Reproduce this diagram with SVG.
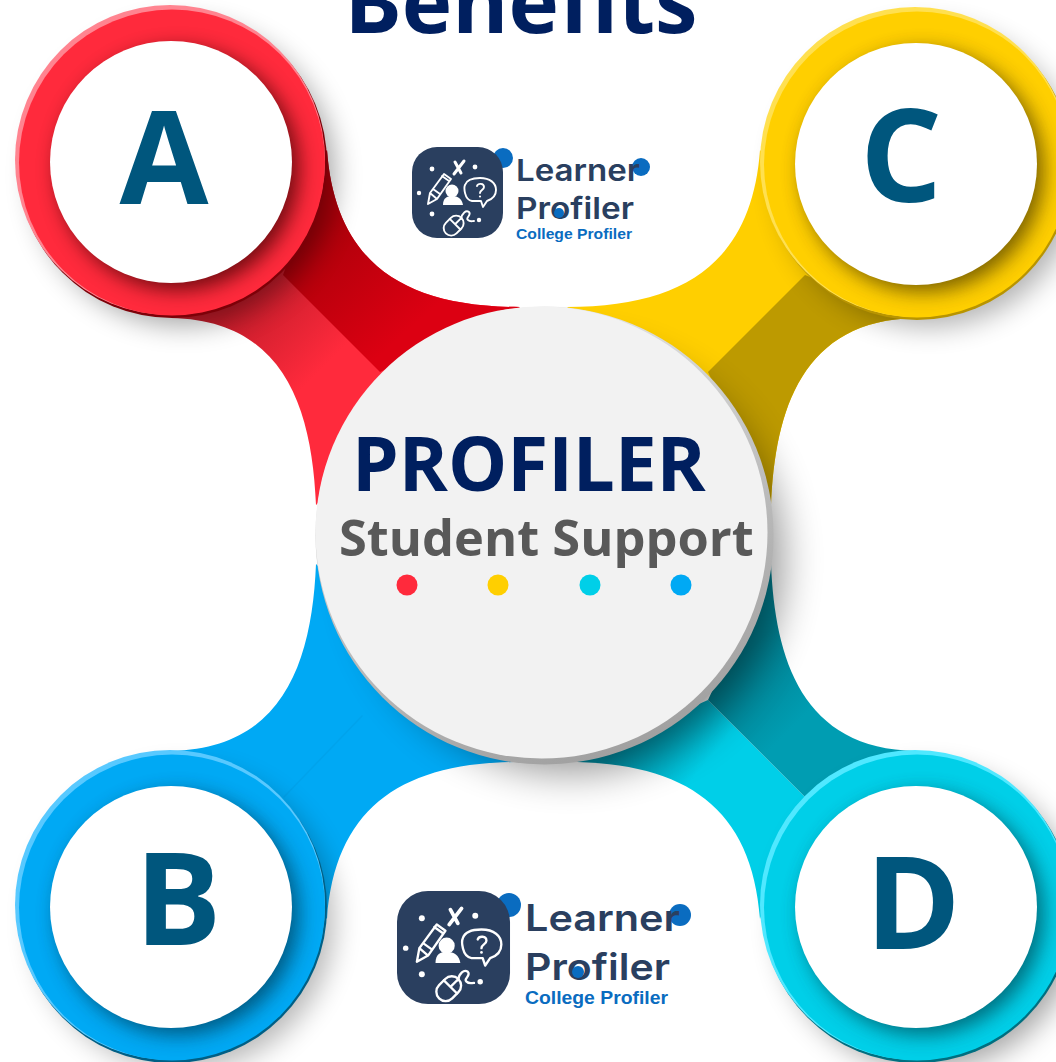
<svg xmlns="http://www.w3.org/2000/svg" xmlns:xlink="http://www.w3.org/1999/xlink" width="1056" height="1062" viewBox="0 0 1056 1062">
<style>
.os{font-family:"Open Sans","Liberation Sans",sans-serif;font-weight:700}
.letter{font-size:129px;fill:#00567d;text-anchor:middle}
.lt{font-family:Inter,"Noto Sans",sans-serif;font-weight:600;fill:#2a3f5f}
.lc{font-family:"Liberation Sans",Arial,sans-serif;font-weight:700;fill:#0a6cc0}
.ic{fill:none;stroke:#fff;stroke-width:1.9;stroke-linejoin:round;stroke-linecap:round}
.wh{fill:#fff}
.lb{fill:#0a6cc0}
</style>
<defs>
<filter id="b20" x="-30%" y="-30%" width="160%" height="160%"><feGaussianBlur stdDeviation="20"/></filter>
<filter id="b14" x="-30%" y="-30%" width="160%" height="160%"><feGaussianBlur stdDeviation="14"/></filter>
<filter id="b10" x="-30%" y="-30%" width="160%" height="160%"><feGaussianBlur stdDeviation="10"/></filter>
<clipPath id="cA"><circle cx="172" cy="162.500" r="153"/></clipPath>
<clipPath id="cB"><circle cx="172" cy="907.500" r="153"/></clipPath>
<clipPath id="cC"><circle cx="917" cy="164.500" r="153"/></clipPath>
<clipPath id="cD"><circle cx="917" cy="907.500" r="153"/></clipPath>
<linearGradient id="gCenter" x1=".3" y1="0" x2=".7" y2="1"><stop offset="0" stop-color="#ececec"/><stop offset=".55" stop-color="#bdbdbd"/><stop offset="1" stop-color="#9e9e9e"/></linearGradient>
<linearGradient id="gA1" gradientUnits="userSpaceOnUse" x1="270" y1="270" x2="345" y2="345"><stop offset="0" stop-color="#c41c2a"/><stop offset="1" stop-color="#ff2a3c"/></linearGradient>
<linearGradient id="gA2" gradientUnits="userSpaceOnUse" x1="330" y1="220" x2="420" y2="320"><stop offset="0" stop-color="#ad000a"/><stop offset="1" stop-color="#dc0012"/></linearGradient>
<linearGradient id="gD1" gradientUnits="userSpaceOnUse" x1="640" y1="720" x2="700" y2="770"><stop offset="0" stop-color="#008ea3"/><stop offset="1" stop-color="#00cfe8"/></linearGradient>
<linearGradient id="gD2" gradientUnits="userSpaceOnUse" x1="720" y1="680" x2="780" y2="740"><stop offset="0" stop-color="#007f90"/><stop offset="1" stop-color="#009db2"/></linearGradient>
<g id="icon">
<rect x="0" y="0" width="91" height="91" rx="25" fill="#2a3f5f"/>
<circle class="wh" cx="20" cy="22" r="2.400"/><circle class="wh" cx="63" cy="20" r="2.400"/><circle class="wh" cx="7" cy="46" r="2.200"/><circle class="wh" cx="20" cy="67" r="2.400"/><circle class="wh" cx="67" cy="73" r="2.200"/>
<path class="ic" style="stroke-width:3" d="M43 15L49 26M52 14L42 27"/>
<path class="ic" d="M16 57L18 46L32 27L39 32L25 52ZM18 46L25 52M21 42L28 47M30 29L37 34"/>
<circle class="wh" cx="40" cy="44" r="6.500"/><path class="wh" d="M31 58C31 51 35 49 40 49C46 49 50 52 51 58Z"/>
<path class="ic" d="M60 54C52 53 52 40 53 38C55 32 62 31 68 31C78 31 84 36 84 43C84 50 78 53 75 54L71 60L69 54Z"/>
<path class="ic" d="M65 39C66 36 72 36 72 40C72 43 68 43 68 46"/><circle class="wh" cx="68" cy="49.500" r="1.100"/>
<g transform="rotate(45 42 79)"><rect class="ic" x="34" y="68" width="15" height="22" rx="7.500"/><path class="ic" d="M34 77H49M41.500 68V77"/></g>
<path class="ic" d="M49 72C50 66 54 63 57 65C60 68 53 71 56 73C58 75 60 74 62 74"/>
</g>
</defs>
<rect width="1056" height="1062" fill="#fff"/>
<g id="connectors">
<g id="arm-A">
<path fill="url(#gA1)" d="M327 150C335 260 400 307 520 307L316 505C312 410 285 320 171 318Z"/>
<path fill="url(#gA2)" d="M327 150C335 260 400 307 520 307L380 372L283 275Z"/>
</g>
<g id="arm-C">
<path fill="#ffcf00" d="M760 150C752 260 687 307 567 307L771 505C775 410 802 320 916 318Z"/>
<path fill="#bd9a00" d="M916 318C802 320 775 410 771 505L708 372L805 275Z"/>
</g>
<g id="arm-B">
<path fill="#00a9f4" d="M171 751C285 749 312 659 316 564L520 762C400 762 335 809 327 919Z"/>
<path fill="#00a3ec" d="M362 715L283 797L284 798L363 716Z"/>
</g>
<g id="arm-D">
<path fill="url(#gD1)" d="M760 919C752 809 687 762 567 762L708 700L805 797Z"/>
<path fill="url(#gD2)" d="M708 700L771 564C775 659 802 749 916 751L805 797Z"/>
</g>
</g>
<g id="node-center">
<circle cx="570" cy="560" r="212" fill="#000" opacity=".42" filter="url(#b20)"/>
<circle cx="544.500" cy="535.500" r="229" fill="url(#gCenter)"/>
<circle cx="541.500" cy="532.500" r="226" fill="#f2f2f2"/>
<text class="os" x="352" y="491" font-size="74.500" fill="#001f5f">PROFILER</text>
<text class="os" x="339" y="556" font-size="50.600" fill="#595959">Student Support</text>
<circle cx="407" cy="585" r="10.500" fill="#ff2a3c"/>
<circle cx="498" cy="585" r="10.500" fill="#ffcf00"/>
<circle cx="590" cy="585" r="10.500" fill="#00cfe8"/>
<circle cx="681" cy="585" r="10.500" fill="#00a9f4"/>
</g>
<g id="node-A">
<circle cx="184" cy="175" r="150" fill="#000" opacity=".36" filter="url(#b14)"/>
<circle cx="172" cy="163" r="155" fill="#7d0008"/>
<circle cx="170" cy="160" r="155" fill="#ff8490"/>
<circle cx="172" cy="162.500" r="153" fill="#ff2a3c"/>
<circle cx="178" cy="169" r="121" fill="#3a0006" opacity=".72" filter="url(#b10)" clip-path="url(#cA)"/>
<circle cx="171" cy="162" r="121" fill="#fff"/>
<text class="os letter" x="164" y="204">A</text>
</g>
<g id="node-B">
<circle cx="184" cy="920" r="150" fill="#000" opacity=".28" filter="url(#b14)"/>
<circle cx="172" cy="908" r="155" fill="#005f85"/>
<circle cx="170" cy="905" r="155" fill="#58c9ff"/>
<circle cx="172" cy="907.500" r="153" fill="#00a9f4"/>
<circle cx="178" cy="914" r="121" fill="#003a55" opacity=".72" filter="url(#b10)" clip-path="url(#cB)"/>
<circle cx="171" cy="907" r="121" fill="#fff"/>
<text class="os letter" x="178" y="945">B</text>
</g>
<g id="node-C">
<circle cx="929" cy="177" r="150" fill="#000" opacity=".3" filter="url(#b14)"/>
<circle cx="917" cy="165" r="155" fill="#b89400"/>
<circle cx="915" cy="162" r="155" fill="#ffe050"/>
<circle cx="917" cy="164.500" r="153" fill="#ffcf00"/>
<circle cx="923" cy="171" r="121" fill="#4a3800" opacity=".72" filter="url(#b10)" clip-path="url(#cC)"/>
<circle cx="916" cy="164" r="121" fill="#fff"/>
<text class="os letter" x="901" y="202">C</text>
</g>
<g id="node-D">
<circle cx="929" cy="920" r="150" fill="#000" opacity=".34" filter="url(#b14)"/>
<circle cx="917" cy="908" r="155" fill="#006f80"/>
<circle cx="915" cy="905" r="155" fill="#50e8ff"/>
<circle cx="917" cy="907.500" r="153" fill="#00cfe8"/>
<circle cx="923" cy="914" r="121" fill="#004a55" opacity=".72" filter="url(#b10)" clip-path="url(#cD)"/>
<circle cx="916" cy="907" r="121" fill="#fff"/>
<text class="os letter" x="913" y="949">D</text>
</g>
<g id="title">
<text class="os" x="521" y="33" font-size="85.400" fill="#001f5f" text-anchor="middle">Benefits</text>
</g>
<g id="logo-top">
<circle class="lb" cx="503" cy="158" r="10"/>
<circle class="lb" cx="641" cy="167" r="9"/>
<use xlink:href="#icon" href="#icon" transform="translate(412 147)"/>
<text class="lt" x="516" y="181" font-size="30" textLength="124" lengthAdjust="spacingAndGlyphs">Learner</text>
<text class="lt" x="516" y="219" font-size="30" textLength="118" lengthAdjust="spacingAndGlyphs">Profiler</text>
<circle class="lb" cx="559" cy="213" r="5"/>
<text class="lc" x="516" y="239" font-size="14.500" textLength="116" lengthAdjust="spacingAndGlyphs">College Profiler</text>
</g>
<g id="logo-bottom">
<circle class="lb" cx="509" cy="905" r="12"/>
<circle class="lb" cx="680" cy="915" r="11"/>
<use xlink:href="#icon" href="#icon" transform="translate(397 891) scale(1.242)"/>
<text class="lt" x="525" y="931" font-size="37" textLength="155" lengthAdjust="spacingAndGlyphs">Learner</text>
<text class="lt" x="525" y="980" font-size="37" textLength="145" lengthAdjust="spacingAndGlyphs">Profiler</text>
<circle class="lb" cx="578" cy="972" r="6"/>
<text class="lc" x="525" y="1004" font-size="18" textLength="143" lengthAdjust="spacingAndGlyphs">College Profiler</text>
</g>
</svg>
